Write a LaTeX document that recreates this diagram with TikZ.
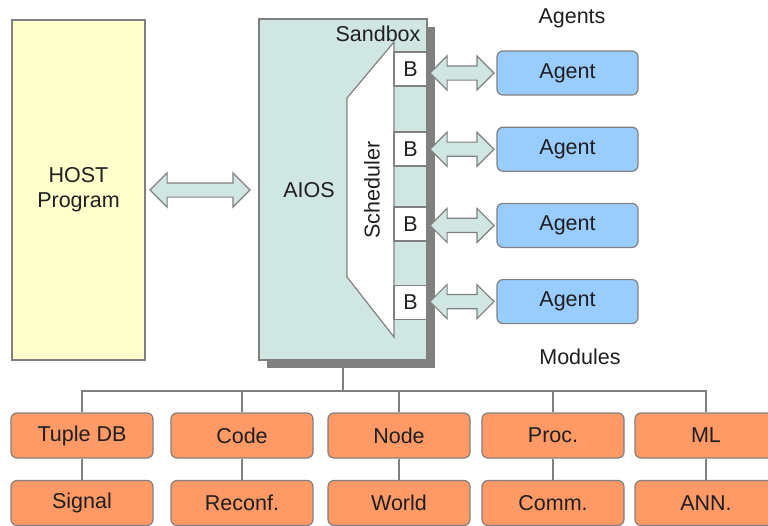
\documentclass[tikz,border=0pt]{standalone}
\usepackage{fontspec}
\setmainfont{Liberation Sans}
\usepackage{xcolor}
\usepackage{tikz}
\usetikzlibrary{positioning,shapes.arrows,shadows}
\definecolor{hostyellow}{RGB}{255,255,204}
\definecolor{sandteal}{RGB}{208,230,227}
\definecolor{agentblue}{RGB}{153,204,255}
\definecolor{moduleorange}{RGB}{255,153,102}
\definecolor{boxgray}{RGB}{128,128,128}
\definecolor{shadowgray}{RGB}{128,128,128}

\begin{document}
\begin{tikzpicture}[
    x=1pt, y=-1pt,%one unit is one pixel of the sketch
    font=\fontsize{21.5}{25}\selectfont,
    text=black!88,
    box/.style={
        draw=boxgray,
        line width=1.2pt,
        inner sep=0pt},
    agent/.style={
        box,
        rounded corners=6pt,
        fill=agentblue,
        minimum width=141pt,
        minimum height=44pt},
    module/.style={
        box,
        rounded corners=6pt,
        fill=moduleorange,
        minimum width=142pt,
        minimum height=45pt},
    buffer/.style={
        box,
        fill=white,
        minimum width=33pt,
        minimum height=34pt},
    dblarrow/.style={
        % The shape:
        double arrow,
        double arrow head extend=10pt,
        double arrow head indent=0pt,
        inner sep=6.5pt,
        % The fill
        draw=boxgray,
        line width=1.2pt,
        fill=sandteal},
    link/.style={draw=boxgray, line width=1.2pt}]
  \useasboundingbox (0,0) rectangle (768,525);

  % host side
  \node (host) [box, fill=hostyellow, minimum width=133pt, minimum height=340pt, align=center]
      at (78.5,190) {HOST\\Program};
  \node (hostarrow) [dblarrow, minimum height=100pt] at (200,190) {};

  % the sandbox with its scheduler
  \node (aios) [box, fill=sandteal, minimum width=168pt, minimum height=341pt,
      drop shadow={shadow xshift=8pt, shadow yshift=-8pt, fill=shadowgray, opacity=1}]
      at (343,189.5) {};
  \node (sandbox) at (378,34) {Sandbox};
  \node (aioslabel) at (309,190) {AIOS};
  \draw[box, fill=white] (394,42) -- (347,98) -- (347,277) -- (394,337) -- cycle;
  \node (scheduler) [rotate=90] at (372,190) {Scheduler};
  \node (b1) [buffer] at (410.5,69) {B};
  \node (b2) [buffer] at (410.5,149) {B};
  \node (b3) [buffer] at (410.5,224) {B};
  \node (b4) [buffer] at (410.5,302.5) {B};

  % agents
  \node (agent1) [agent] at (567.5,73) {Agent};
  \node (agent2) [agent,below=31pt of agent1] {Agent};
  \node (agent3) [agent,below=31pt of agent2] {Agent};
  \node (agent4) [agent,below=31pt of agent3] {Agent};
  \node (agents) at (572,18) {Agents};
  \foreach \i in {1,...,4}
    \node (barrow\i) [dblarrow, minimum height=64pt] at (462,0 |- agent\i) {};

  % modules
  \node (modules) at (580,357) {Modules};
  \coordinate (bus) at (343,391);
  \draw[link] (aios.south) -- (bus);
  \foreach \x/\upper/\lower/\n in {82/Tuple DB/Signal/1, 242/Code/Reconf./2,
      399/Node/World/3, 553/Proc./Comm./4, 706/ML/ANN./5}{
    \node (mod\n) [module] at (\x,435.5) {\upper};
    \node (sub\n) [module] at (\x,503) {\lower};
    \draw[link] (bus) -| (mod\n.north);
    \draw[link] (mod\n) -- (sub\n);
  }
\end{tikzpicture}
\end{document}
